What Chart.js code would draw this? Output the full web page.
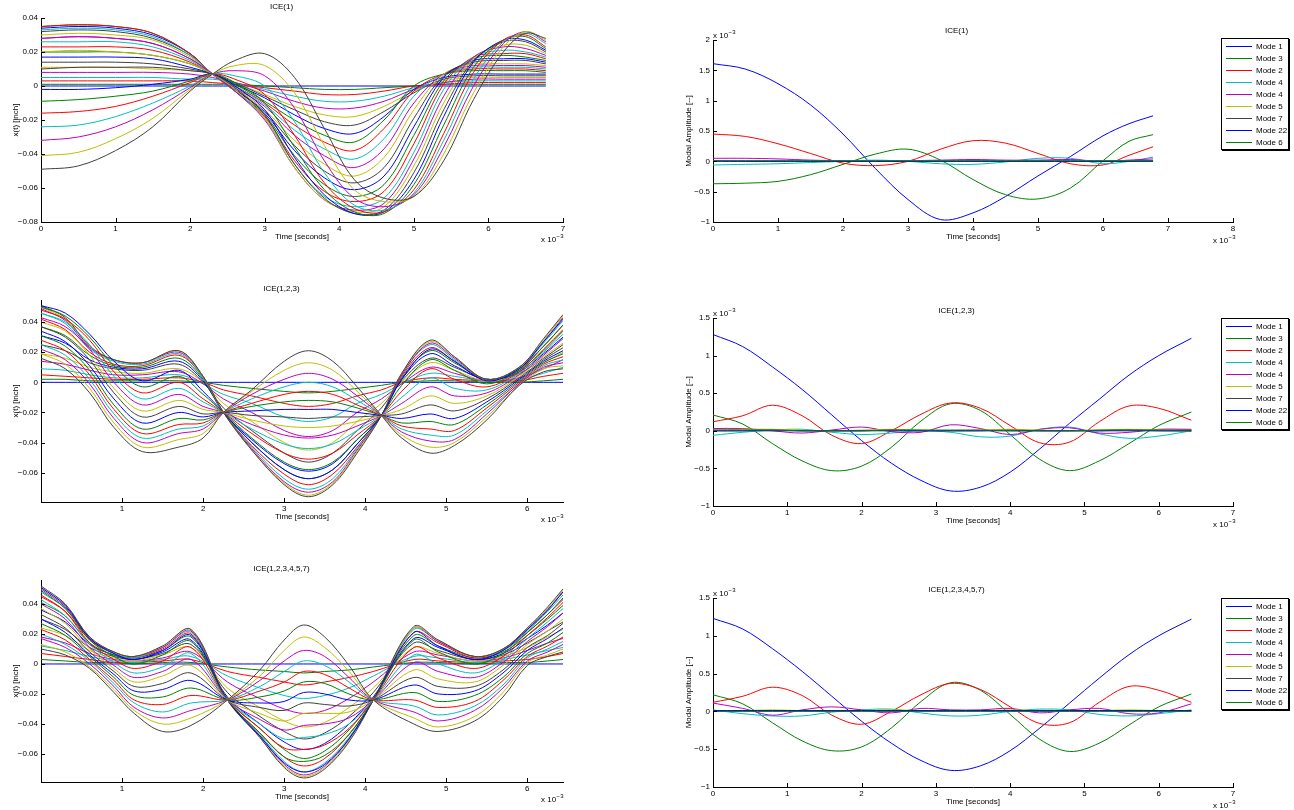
<!DOCTYPE html>
<html>
<head>
<meta charset="utf-8">
<title>ICE modal response</title>
<script src="https://cdn.jsdelivr.net/npm/chart.js@4.4.1/dist/chart.umd.min.js"></script>
<style>
  body { margin: 0; background: #fff; }
  #page { position: relative; width: 1294px; height: 810px; overflow: hidden; background: #fff; }
  .panel { position: absolute; }
  .legend { position: absolute; left: 1221px; width: 66px; background: #fff; border: 1px solid #000;
            box-shadow: 1px 1px 0 #000; padding: 2px 0 1px 0;
            font: 8px "Liberation Sans", Arial, sans-serif; color: #000; }
  .legend-item { display: flex; align-items: center; height: 11.9px; }
  .legend-line { width: 26px; height: 0; border-top: 1px solid; margin: 0 4px 0 4px; }
</style>
</head>
<body>
<div id="page">
  <canvas class="panel" id="dispIce1" width="600" height="244" style="left:0;top:0"></canvas>
  <canvas class="panel" id="dispIce123" width="600" height="244" style="left:0;top:280px"></canvas>
  <canvas class="panel" id="dispIce123457" width="600" height="244" style="left:0;top:560px"></canvas>
  <canvas class="panel" id="modeIce1" width="576" height="224" style="left:680px;top:20px"></canvas>
  <canvas class="panel" id="modeIce123" width="576" height="230" style="left:680px;top:298px"></canvas>
  <canvas class="panel" id="modeIce123457" width="576" height="231" style="left:680px;top:578px"></canvas>
  <div class="legend" id="legendIce1" style="top:38px"></div>
  <div class="legend" id="legendIce123" style="top:318px"></div>
  <div class="legend" id="legendIce123457" style="top:598px"></div>
</div>
<script>
// MATLAB 默认线条颜色顺序 b g r c m y k
const lineColors = ['#0000ff', '#008000', '#ff0000', '#00bfbf', '#bf00bf', '#bfbf00', '#404040'];
const FONT = '"Liberation Sans", Arial, sans-serif';

// ---- 左列: 各节点位移 x(t), 单位 0.001 inch, 时间单位 ms ----
const ice1Time = [0, 0.5, 1.0, 1.5, 2.0, 2.3, 2.6, 3.0, 3.4, 3.8, 4.2, 4.6, 5.0, 5.4, 5.8, 6.2, 6.5, 6.77];
const ice1Disp = [
  [0,0,0,0,0,0,0,0,0,0,0,0,0,0,0,0,0,0],
  [1,1,1,1,1,1,1,0,-1,-2,-2,-1,0,1,1,1,1,1],
  [3,3,3,3,3,2,1,-1,-3,-5,-5,-3,0,1,2,2,2,2],
  [5,5,5,5,4,4,2,-2,-6,-9,-9,-6,-1,2,3,3,3,3],
  [8,8,8,8,7,5,2,-3,-9,-13,-13,-9,-2,2,4,4,4,4],
  [11,11,11,10,9,7,2,-5,-12,-17,-18,-12,-3,3,5,5,5,5],
  [14,14,14,13,10,7,2,-6,-14,-21,-23,-15,-4,4,6,6,6,6],
  [17,17,17,16,11,7,1,-7,-17,-25,-28,-18,-2,5,7,7,7,7],
  [20,20,20,18,13,7,1,-9,-20,-29,-33,-20,0,7,9,9,9,8],
  [23,23,23,21,14,7,0,-10,-23,-33,-38,-25,-3,7,10,10,10,9],
  [26,26,26,23,15,7,0,-11,-26,-37,-43,-31,-6,7,11,11,11,10],
  [28,29,28,25,16,7,-1,-12,-29,-41,-48,-37,-10,7,12,12,12,11],
  [30,31,30,27,17,7,-1,-14,-32,-46,-53,-42,-14,7,13,13,13,12],
  [32,33,32,28,18,7,-2,-15,-35,-50,-57,-48,-19,6,14,15,15,13],
  [34,35,34,30,19,7,-2,-16,-38,-54,-61,-53,-24,5,15,16,16,14],
  [35,36,35,31,19,7,-3,-17,-41,-58,-65,-58,-29,3,16,18,17,15],
  [35,36,35,31,19,7,-3,-18,-44,-62,-68,-62,-34,1,17,19,19,16],
  [33,34,33,29,18,7,-3,-19,-46,-65,-71,-66,-39,-2,17,21,20,17],
  [28,29,28,25,16,7,-3,-20,-48,-67,-73,-69,-43,-6,17,23,22,18],
  [20,21,20,18,13,7,-2,-19,-48,-67,-74,-71,-47,-10,16,24,24,19],
  [10,11,11,11,9,7,-1,-17,-46,-66,-75,-73,-51,-14,15,26,26,20],
  [-2,-2,-1,1,4,7,0,-14,-42,-64,-75,-74,-55,-18,14,27,27,21],
  [-9,-8,-6,-3,3,7,2,-10,-36,-61,-74,-75,-58,-23,11,27,29,22],
  [-16,-15,-12,-6,2,7,4,-5,-29,-57,-72,-74,-61,-28,8,27,30,23],
  [-24,-23,-18,-10,0,7,6,0,-21,-51,-70,-73,-63,-32,4,26,31,25],
  [-32,-30,-24,-14,-1,7,9,6,-13,-44,-66,-71,-64,-36,0,25,32,26],
  [-41,-39,-31,-19,-2,7,12,12,-4,-35,-61,-68,-65,-40,-4,23,32,27],
  [-49,-47,-38,-24,-3,7,15,19,5,-25,-55,-66,-65,-44,-8,20,31,28]
];

const ice123Time = [0, 0.3, 0.6, 0.9, 1.25, 1.7, 2.0, 2.25, 2.6, 3.0, 3.3, 3.6, 3.9, 4.2, 4.45, 4.8, 5.1, 5.5, 5.9, 6.2, 6.44];
const ice123Disp = [
  [0,0,0,0,0,0,0,0,0,0,0,0,0,0,0,0,0,0,0,0,0],
  [2,2,1,1,1,1,0,-2,-4,-6,-7,-6,-4,-2,0,1,1,0,0,1,2],
  [5,4,3,2,2,3,0,-5,-9,-14,-16,-14,-9,-5,0,3,2,1,1,4,6],
  [9,8,5,3,3,5,-1,-8,-14,-23,-26,-23,-14,-8,-1,6,4,1,2,6,10],
  [14,12,8,5,5,7,-1,-11,-20,-32,-36,-32,-20,-11,-1,10,6,1,3,9,15],
  [19,16,10,7,6,9,0,-14,-26,-40,-45,-40,-26,-14,0,13,8,1,5,13,20],
  [25,21,13,9,8,12,0,-17,-32,-47,-53,-47,-32,-17,1,16,10,2,6,16,25],
  [31,26,15,10,9,14,1,-20,-38,-54,-59,-54,-38,-22,2,19,11,2,7,19,30],
  [37,31,18,11,10,16,2,-20,-40,-58,-64,-58,-41,-22,3,21,13,2,8,21,34],
  [42,35,20,12,11,18,3,-20,-42,-61,-68,-61,-43,-22,4,23,14,2,9,24,38],
  [46,39,22,14,12,19,3,-20,-43,-64,-71,-64,-44,-22,5,25,15,2,9,26,41],
  [49,41,23,15,13,20,4,-20,-44,-66,-73,-66,-45,-22,5,26,16,2,10,27,43],
  [50,42,24,15,13,21,4,-20,-45,-67,-75,-67,-46,-22,6,27,17,2,10,28,44],
  [51,43,24,15,13,21,4,-20,-45,-68,-76,-68,-47,-22,6,28,17,2,10,29,45],
  [51,46,32,14,1,8,-6,-20,-40,-58,-64,-58,-41,-22,2,22,14,1,9,27,42],
  [50,44,30,11,-3,4,-8,-20,-37,-53,-58,-53,-38,-22,-2,15,8,-1,8,24,38],
  [48,42,28,7,-7,0,-11,-20,-34,-47,-51,-47,-35,-22,-6,9,2,-3,7,22,35],
  [46,40,25,4,-11,-4,-13,-20,-31,-41,-44,-41,-32,-22,-10,3,-4,-5,6,20,32],
  [43,37,22,0,-15,-8,-16,-20,-28,-35,-37,-35,-29,-22,-14,-3,-9,-7,5,18,29],
  [40,34,18,-4,-19,-12,-18,-20,-25,-29,-30,-29,-26,-22,-18,-9,-14,-9,4,17,26],
  [37,30,15,-7,-23,-16,-21,-20,-22,-23,-24,-23,-23,-22,-21,-15,-19,-11,3,15,23],
  [34,27,11,-11,-27,-20,-23,-20,-19,-18,-18,-18,-20,-22,-24,-21,-24,-13,2,14,21],
  [31,24,8,-15,-31,-24,-25,-20,-16,-13,-12,-13,-17,-22,-27,-26,-28,-15,1,13,19],
  [28,21,5,-18,-34,-28,-27,-20,-14,-8,-6,-8,-15,-22,-29,-31,-32,-17,0,12,17],
  [25,18,2,-21,-37,-31,-29,-20,-11,-3,0,-3,-12,-22,-31,-35,-35,-19,-1,11,15],
  [22,15,-1,-24,-40,-34,-31,-20,-8,2,6,2,-9,-22,-33,-39,-38,-21,-1,10,13],
  [19,12,-4,-27,-43,-38,-34,-20,-6,8,13,8,-6,-22,-35,-43,-40,-23,-2,9,11],
  [16,9,-7,-30,-46,-43,-37,-20,-5,14,21,14,-3,-22,-37,-47,-42,-25,-2,7,9]
];

const ice123457Time = [0, 0.3, 0.6, 0.9, 1.15, 1.5, 1.85, 2.3, 2.7, 3.0, 3.24, 3.5, 3.8, 4.1, 4.6, 4.9, 5.35, 5.7, 6.0, 6.25, 6.44];
const ice123457Disp = [
  [0,0,0,0,0,0,0,0,0,0,0,0,0,0,0,0,0,0,0,0,0],
  [3,2,1,1,0,1,1,-2,-4,-5,-6,-5,-4,-2,1,1,0,1,1,2,3],
  [7,5,3,1,1,2,3,-5,-9,-12,-14,-12,-9,-5,3,2,1,2,3,5,7],
  [12,9,5,2,1,3,5,-8,-16,-21,-23,-21,-16,-8,5,4,1,3,6,9,11],
  [18,14,7,3,2,4,8,-12,-23,-30,-33,-31,-23,-12,8,6,2,4,9,14,17],
  [24,19,9,4,2,6,11,-16,-29,-38,-42,-39,-29,-16,11,7,2,5,11,18,23],
  [30,23,11,5,3,7,13,-19,-35,-45,-50,-46,-35,-19,14,9,3,6,14,22,28],
  [36,28,13,6,3,8,16,-22,-40,-52,-57,-53,-40,-22,17,11,3,7,17,26,34],
  [41,32,14,6,4,9,18,-23,-43,-57,-63,-58,-44,-23,19,12,4,8,19,30,39],
  [45,35,16,7,4,10,20,-24,-46,-62,-68,-63,-47,-24,21,14,4,9,21,33,43],
  [48,37,17,7,4,11,21,-24,-47,-65,-72,-66,-49,-24,23,15,5,9,22,35,46],
  [50,38,17,8,5,11,22,-24,-48,-67,-74,-68,-50,-24,24,15,5,10,23,36,48],
  [51,39,18,8,5,12,23,-24,-49,-68,-75,-69,-51,-24,24,16,5,10,24,37,49],
  [52,40,18,8,5,12,23,-24,-49,-69,-76,-70,-52,-24,25,16,5,10,24,38,50],
  [51,39,17,7,3,9,19,-24,-48,-66,-72,-67,-50,-24,21,12,3,9,23,36,48],
  [49,37,16,5,0,6,15,-24,-46,-62,-65,-61,-47,-24,16,8,0,7,21,33,44],
  [46,35,14,3,-3,2,11,-24,-43,-56,-57,-54,-43,-24,11,4,-3,5,19,31,41],
  [43,32,13,1,-6,-2,7,-24,-40,-50,-49,-47,-40,-24,6,0,-6,3,17,28,37],
  [40,30,11,-1,-9,-5,3,-24,-37,-44,-41,-40,-36,-24,1,-5,-9,1,15,25,34],
  [37,27,10,-3,-12,-8,-1,-24,-33,-38,-33,-33,-32,-24,-4,-10,-12,-1,13,22,30],
  [33,24,8,-5,-15,-13,-6,-24,-29,-31,-26,-27,-28,-24,-9,-15,-15,-4,11,19,27],
  [30,21,6,-7,-18,-17,-11,-24,-26,-25,-19,-20,-24,-24,-14,-20,-18,-6,9,17,24],
  [27,19,5,-9,-21,-22,-16,-24,-22,-18,-12,-13,-20,-24,-19,-25,-21,-9,7,14,21],
  [23,16,3,-11,-24,-27,-21,-24,-18,-12,-5,-7,-16,-24,-24,-29,-25,-11,5,12,18],
  [20,13,2,-13,-26,-32,-26,-24,-15,-5,2,-1,-12,-24,-28,-34,-28,-14,4,10,15],
  [17,11,0,-15,-29,-36,-31,-24,-11,2,9,5,-9,-24,-32,-38,-31,-16,2,8,13],
  [13,8,-2,-17,-31,-40,-36,-24,-8,9,18,11,-5,-24,-36,-42,-35,-19,1,6,10],
  [10,6,-3,-19,-33,-45,-41,-24,-4,16,26,18,-1,-24,-40,-45,-38,-22,-1,5,8]
];

// ---- 右列: 模态幅值, 单位 1e-3 ----
const modeNames = ['Mode 1', 'Mode 3', 'Mode 2', 'Mode 4', 'Mode 4', 'Mode 5', 'Mode 7', 'Mode 22', 'Mode 6'];
const modeColors = ['#0000ff', '#008000', '#ff0000', '#00bfbf', '#bf00bf', '#bfbf00', '#404040', '#0000ff', '#008000'];

const ice1ModeTime = [0, 0.5, 1.0, 1.5, 2.0, 2.5, 3.0, 3.5, 4.0, 4.5, 5.0, 5.5, 6.0, 6.4, 6.77];
const ice1Modes = [
  [1.61,1.52,1.28,0.93,0.45,-0.12,-0.63,-0.96,-0.85,-0.58,-0.24,0.08,0.42,0.62,0.75],
  [-0.37,-0.36,-0.33,-0.22,-0.05,0.12,0.20,0.02,-0.30,-0.55,-0.62,-0.44,0.01,0.33,0.44],
  [0.45,0.41,0.29,0.13,-0.03,-0.07,0.00,0.20,0.34,0.30,0.13,-0.04,-0.06,0.10,0.24],
  [-0.06,-0.05,-0.04,-0.02,0.00,0.02,0.00,-0.04,-0.05,-0.01,0.05,0.05,-0.04,0.00,0.07],
  [0.05,0.05,0.04,0.02,0.01,0.00,0.01,0.02,0.03,0.02,0.02,0.03,0.00,0.02,0.04],
  [0.01,0.01,0.01,0.01,0.01,0.01,0.01,0.01,0.01,0.01,0.01,0.01,0.01,0.01,0.01],
  [0.01,0.00,0.00,0.00,0.00,0.00,0.00,0.00,0.00,0.00,0.00,0.00,0.00,0.00,0.01],
  [0.00,0.00,0.00,0.00,0.00,0.00,0.00,0.00,0.00,0.00,0.00,0.00,0.00,0.00,0.00],
  [0.01,0.01,0.01,0.01,0.01,0.01,0.01,0.01,0.01,0.01,0.01,0.01,0.01,0.01,0.01]
];

const ice123ModeTime = [0, 0.4, 0.8, 1.2, 1.6, 2.0, 2.4, 2.8, 3.2, 3.6, 4.0, 4.4, 4.8, 5.2, 5.6, 6.0, 6.44];
const ice123Modes = [
  [1.28,1.12,0.85,0.55,0.21,-0.13,-0.43,-0.66,-0.80,-0.75,-0.55,-0.24,0.10,0.42,0.74,1.00,1.23],
  [0.21,0.09,-0.17,-0.40,-0.53,-0.47,-0.22,0.13,0.36,0.27,-0.05,-0.38,-0.53,-0.40,-0.17,0.07,0.25],
  [0.12,0.20,0.34,0.20,-0.06,-0.17,0.00,0.22,0.37,0.30,0.07,-0.16,-0.15,0.12,0.33,0.30,0.14],
  [-0.06,-0.02,0.01,0.02,-0.02,-0.05,-0.03,0.00,-0.02,-0.08,-0.07,0.02,0.05,-0.04,-0.10,-0.07,0.00],
  [0.03,0.03,0.00,-0.03,0.01,0.05,-0.01,-0.02,0.08,0.03,-0.05,0.02,0.04,-0.03,-0.02,0.02,0.02],
  [0.01,0.02,0.02,0.01,0.00,0.01,0.02,0.01,0.00,0.01,0.02,0.01,0.00,0.01,0.02,0.01,-0.01],
  [0.00,0.00,0.01,0.00,0.00,0.00,0.01,0.00,0.00,0.00,0.01,0.00,0.00,0.00,0.01,0.00,0.00],
  [0.00,0.00,0.00,0.00,0.00,0.00,0.00,0.00,0.00,0.00,0.00,0.00,0.00,0.00,0.00,0.00,0.00],
  [0.01,0.01,0.01,0.00,0.00,0.00,0.01,0.01,0.01,0.01,0.00,0.00,0.00,0.01,0.01,0.01,0.01]
];

const ice123457ModeTime = [0, 0.4, 0.8, 1.2, 1.6, 2.0, 2.4, 2.8, 3.2, 3.6, 4.0, 4.4, 4.8, 5.2, 5.6, 6.0, 6.44];
const ice123457Modes = [
  [1.23,1.09,0.83,0.53,0.20,-0.13,-0.42,-0.65,-0.78,-0.72,-0.52,-0.22,0.11,0.44,0.75,1.00,1.22],
  [0.22,0.10,-0.15,-0.39,-0.52,-0.47,-0.22,0.13,0.38,0.28,-0.04,-0.37,-0.53,-0.42,-0.18,0.06,0.23],
  [0.12,0.20,0.32,0.21,-0.05,-0.17,0.00,0.22,0.37,0.29,0.06,-0.16,-0.15,0.12,0.33,0.28,0.12],
  [0.02,-0.03,-0.06,-0.06,-0.01,0.02,0.03,-0.02,-0.06,-0.05,0.00,0.03,0.02,-0.04,-0.06,-0.03,0.02],
  [0.11,0.04,-0.05,0.02,0.06,0.02,-0.02,0.04,0.02,0.02,0.04,-0.02,0.02,0.04,-0.03,-0.02,0.10],
  [0.00,0.01,0.02,0.01,0.00,0.01,0.02,0.01,0.00,0.01,0.02,0.01,0.00,0.01,0.02,0.01,0.00],
  [0.01,0.01,0.01,0.01,0.01,0.01,0.01,0.01,0.01,0.01,0.01,0.01,0.01,0.01,0.01,0.01,0.01],
  [0.01,0.01,0.01,0.01,0.01,0.01,0.01,0.01,0.01,0.01,0.01,0.01,0.01,0.01,0.01,0.01,0.01],
  [0.00,0.00,0.00,0.00,0.00,0.00,0.00,0.00,0.00,0.00,0.00,0.00,0.00,0.00,0.00,0.00,0.00]
];

// 坐标轴刻度
const ticksX7 = [0, 1, 2, 3, 4, 5, 6, 7];
const ticksX8 = [0, 1, 2, 3, 4, 5, 6, 7, 8];
const ticksX6 = [1, 2, 3, 4, 5, 6];
const ticksDispTop = [-0.08, -0.06, -0.04, -0.02, 0, 0.02, 0.04];
const ticksDisp = [-0.06, -0.04, -0.02, 0, 0.02, 0.04];
const ticksModeTop = [-1, -0.5, 0, 0.5, 1, 1.5, 2];
const ticksMode = [-1, -0.5, 0, 0.5, 1, 1.5];

function fmtNum(v, digits) {
    if (Math.abs(v) < 1e-9) return '0';
    const s = digits == null ? String(Math.abs(v)) : Math.abs(v).toFixed(digits);
    return (v < 0 ? '\u2212' : '') + s;
}

/**
 * 位移曲线: 每个节点一条线
 */
function dispDatasets(times, rows) {
    return rows.map((row, i) => ({
        data: row.map((v, j) => ({ x: times[j], y: v / 1000 })),
        borderColor: lineColors[i % 7],
        borderWidth: 1,
        pointRadius: 0,
        tension: 0.35,
        order: rows.length - i
    }));
}

/**
 * 模态幅值曲线
 */
function modeDatasets(times, rows) {
    return rows.map((row, i) => ({
        label: modeNames[i],
        data: row.map((v, j) => ({ x: times[j], y: v })),
        borderColor: modeColors[i],
        borderWidth: 1,
        pointRadius: 0,
        tension: 0.35,
        order: rows.length - i
    }));
}

function drawExponent(ctx, x, y) {
    ctx.textAlign = 'left';
    ctx.textBaseline = 'alphabetic';
    ctx.font = `8px ${FONT}`;
    ctx.fillText('x 10', x, y);
    const w = ctx.measureText('x 10').width;
    ctx.font = `6px ${FONT}`;
    ctx.fillText('\u22123', x + w + 0.5, y - 4);
}

// MATLAB 风格: 向内的刻度线 + x10^-3 标注
const matlabAxes = {
    id: 'matlabAxes',
    afterDraw(chart, args, opts) {
        const { ctx, chartArea: area, scales: { x, y } } = chart;
        ctx.save();
        ctx.strokeStyle = '#000';
        ctx.lineWidth = 1;
        ctx.beginPath();
        x.ticks.forEach(t => {
            const px = Math.round(x.getPixelForValue(t.value)) + 0.5;
            ctx.moveTo(px, area.bottom);
            ctx.lineTo(px, area.bottom - 4);
        });
        y.ticks.forEach(t => {
            const py = Math.round(y.getPixelForValue(t.value)) + 0.5;
            ctx.moveTo(area.left, py);
            ctx.lineTo(area.left + 4, py);
        });
        ctx.stroke();
        ctx.fillStyle = '#000';
        if (opts.xExp) drawExponent(ctx, area.right - opts.xExp[0], area.bottom + opts.xExp[1]);
        if (opts.yExp) drawExponent(ctx, area.left, area.top - 2);
        ctx.restore();
    }
};

function renderPanel(cfg) {
    const ctx = document.getElementById(cfg.id).getContext('2d');
    const font = { family: FONT, size: 8, weight: 'normal' };
    return new Chart(ctx, {
        type: 'line',
        data: { datasets: cfg.datasets },
        options: {
            responsive: false,
            animation: false,
            events: [],
            layout: { padding: { left: 0, right: cfg.padRight, top: 0, bottom: 0 } },
            scales: {
                x: {
                    type: 'linear',
                    min: cfg.xMin,
                    max: cfg.xMax,
                    afterBuildTicks: s => { s.ticks = cfg.xTicks.map(v => ({ value: v })); },
                    afterFit: s => { s.height = 22; },
                    grid: { display: false, drawTicks: false },
                    border: { display: true, color: '#000', width: 1 },
                    ticks: { font, color: '#000', padding: 2, maxRotation: 0, autoSkip: false,
                             callback: v => String(v) },
                    title: { display: true, text: 'Time [seconds]', font, color: '#000',
                             padding: { top: 0, bottom: 2 } }
                },
                y: {
                    type: 'linear',
                    min: cfg.yMin,
                    max: cfg.yMax,
                    afterBuildTicks: s => { s.ticks = cfg.yTicks.map(v => ({ value: v })); },
                    afterFit: s => { s.width = cfg.yWidth; },
                    grid: { display: false, drawTicks: false },
                    border: { display: true, color: '#000', width: 1 },
                    ticks: { font, color: '#000', padding: 3, autoSkip: false,
                             callback: v => fmtNum(v, cfg.yDigits) },
                    title: { display: true, text: cfg.yLabel, font, color: '#000',
                             padding: { top: cfg.yTitlePad, bottom: 0 } }
                }
            },
            plugins: {
                legend: { display: false },
                tooltip: { enabled: false },
                title: { display: true, text: cfg.title, font, color: '#000',
                         padding: { top: cfg.titlePad[0], bottom: cfg.titlePad[1] } },
                matlabAxes: { xExp: cfg.xExp, yExp: cfg.yExp }
            }
        },
        plugins: [matlabAxes]
    });
}

/**
 * 渲染图例 (MATLAB 样式边框)
 */
function renderModeLegend(container) {
    container.innerHTML = modeNames.map((name, i) => `
        <div class="legend-item">
            <span class="legend-line" style="border-color: ${modeColors[i]}"></span>
            <span>${name}</span>
        </div>
    `).join('');
}

const leftBase = { padRight: 37, yWidth: 41, yTitlePad: 11, yLabel: 'x(t) [inch]', yDigits: 2, xExp: [22, 20] };
const rightBase = { padRight: 23, yWidth: 33, yTitlePad: 4, yLabel: 'Modal Amplitude [--]', yDigits: null,
                    xExp: [20, 21], yExp: true };

renderPanel(Object.assign({}, leftBase, {
    id: 'dispIce1', title: 'ICE(1)', titlePad: [2.2, 6.2],
    datasets: dispDatasets(ice1Time, ice1Disp),
    xMin: 0, xMax: 7, xTicks: ticksX7, yMin: -0.08, yMax: 0.04, yTicks: ticksDispTop
}));
renderPanel(Object.assign({}, leftBase, {
    id: 'dispIce123', title: 'ICE(1,2,3)', titlePad: [4.2, 6.2],
    datasets: dispDatasets(ice123Time, ice123Disp),
    xMin: 0, xMax: 6.44, xTicks: ticksX6, yMin: -0.0795, yMax: 0.0547, yTicks: ticksDisp
}));
renderPanel(Object.assign({}, leftBase, {
    id: 'dispIce123457', title: 'ICE(1,2,3,4,5,7)', titlePad: [4.2, 6.2],
    datasets: dispDatasets(ice123457Time, ice123457Disp),
    xMin: 0, xMax: 6.44, xTicks: ticksX6, yMin: -0.0787, yMax: 0.056, yTicks: ticksDisp
}));
renderPanel(Object.assign({}, rightBase, {
    id: 'modeIce1', title: 'ICE(1)', titlePad: [6.2, 4.2],
    datasets: modeDatasets(ice1ModeTime, ice1Modes),
    xMin: 0, xMax: 8, xTicks: ticksX8, yMin: -1, yMax: 2, yTicks: ticksModeTop
}));
renderPanel(Object.assign({}, rightBase, {
    id: 'modeIce123', title: 'ICE(1,2,3)', titlePad: [8.2, 2.2],
    datasets: modeDatasets(ice123ModeTime, ice123Modes),
    xMin: 0, xMax: 7, xTicks: ticksX7, yMin: -1, yMax: 1.5, yTicks: ticksMode
}));
renderPanel(Object.assign({}, rightBase, {
    id: 'modeIce123457', title: 'ICE(1,2,3,4,5,7)', titlePad: [7.2, 3.2],
    datasets: modeDatasets(ice123457ModeTime, ice123457Modes),
    xMin: 0, xMax: 7, xTicks: ticksX7, yMin: -1, yMax: 1.5, yTicks: ticksMode
}));

renderModeLegend(document.getElementById('legendIce1'));
renderModeLegend(document.getElementById('legendIce123'));
renderModeLegend(document.getElementById('legendIce123457'));
</script>
</body>
</html>
